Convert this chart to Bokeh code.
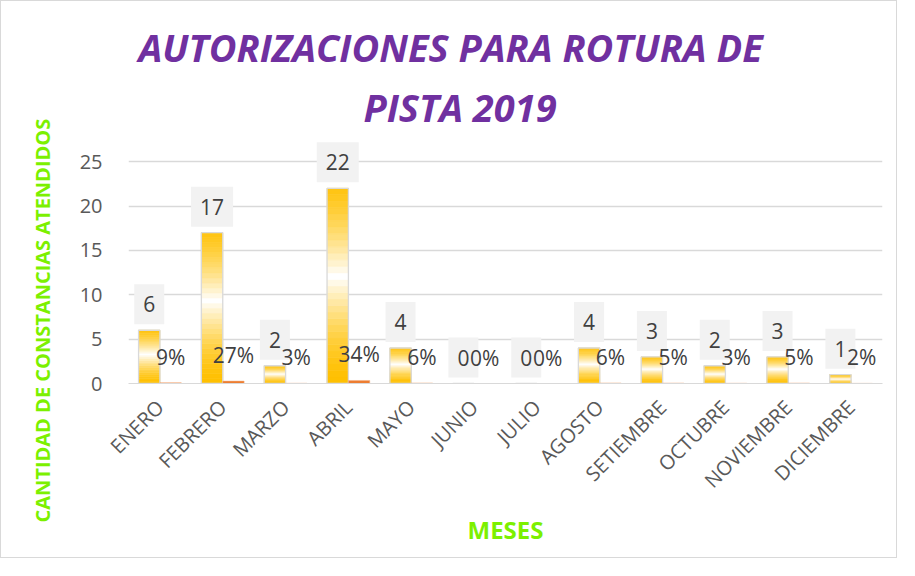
import numpy as np
from bokeh.plotting import figure
from bokeh.models import ColumnDataSource, FixedTicker, Title, FactorRange, Range1d
from bokeh.core.properties import value
from bokeh.embed import file_html
from bokeh.resources import INLINE

months = ["ENERO", "FEBRERO", "MARZO", "ABRIL", "MAYO", "JUNIO", "JULIO",
          "AGOSTO", "SETIEMBRE", "OCTUBRE", "NOVIEMBRE", "DICIEMBRE"]
counts = [6, 17, 2, 22, 4, 0, 0, 4, 3, 2, 3, 1]
percents = [9, 27, 3, 34, 6, 0, 0, 6, 5, 3, 5, 2]
y_ticks = [0, 5, 10, 15, 20, 25]

title1 = "AUTORIZACIONES  PARA ROTURA DE"
title2 = "PISTA 2019"
y_title = "CANTIDAD DE CONSTANCIAS ATENDIDOS"
x_title = "MESES"

FONT = "Open Sans"
GREEN = "#7CF000"
GOLD = np.array([255, 192, 0])
WHITE = np.array([255, 255, 255])

p = figure(width=897, height=558, output_backend="svg", toolbar_location=None,
           x_range=FactorRange(factors=months, range_padding=0),
           y_range=Range1d(0, 27.5),
           min_border_left=127, min_border_right=16, min_border_top=138,
           min_border_bottom=176)
p.styles = {"border": "1px solid #D9D9D9"}
p.outline_line_color = None
p.background_fill_color = "white"
p.border_fill_color = "white"

# gradient gold bars (vertical slices computed from each value)
N = 30
L, R, B, T, C = [], [], [], [], []
for i, v in enumerate(counts):
    if v <= 0:
        continue
    for k in range(N):
        t = (k + 0.5) / N
        w = max(0.0, 1 - abs(t - 0.55) / 0.55) ** 1.6
        col = GOLD * (1 - w) + WHITE * w
        L.append(i + 0.16)
        R.append(i + 0.5)
        B.append(v * k / N)
        T.append(v * (k + 1) / N)
        C.append("#%02x%02x%02x" % tuple(int(round(c)) for c in col))
p.quad(left=L, right=R, bottom=B, top=T, fill_color=C, line_color=C, line_width=0.6)

idx = np.arange(len(months))
cnt = np.array(counts, dtype=float)
pct = np.array(percents, dtype=float) / 100.0

bars = ColumnDataSource(dict(left=idx + 0.16, right=idx + 0.5, top=cnt))
p.quad(left="left", right="right", bottom=0, top="top", source=bars,
       fill_alpha=0, line_color="#D9D9D9", line_width=1.3)

obars = ColumnDataSource(dict(left=idx + 0.5, right=idx + 0.84, top=pct))
p.quad(left="left", right="right", bottom=0, top="top", source=obars,
       fill_color="#ED7D31", line_color="#F4B183", line_width=0.5)

off = 26 / 8.873
vlab = ColumnDataSource(dict(x=idx + 0.33, y=cnt + off, text=[str(c) for c in counts]))
p.text(x="x", y="y", text="text", source=vlab, text_font=value(FONT),
       text_font_size=value("21px"), text_color="#404040",
       text_align="center", text_baseline="middle",
       background_fill_color="#F2F2F2", padding=(9, 12))

plab = ColumnDataSource(dict(x=idx + 0.67, y=pct + off, text=["%d%%" % q for q in percents]))
p.text(x="x", y="y", text="text", source=plab, text_font=value(FONT),
       text_font_size=value("21px"), text_color="#404040",
       text_align="center", text_baseline="middle")

# axes
p.yaxis.ticker = FixedTicker(ticks=y_ticks)
p.yaxis.axis_line_color = None
p.yaxis.major_tick_line_color = None
p.yaxis.minor_tick_line_color = None
p.yaxis.major_label_standoff = 20
p.yaxis.major_label_text_font = FONT
p.yaxis.major_label_text_font_size = "20px"
p.yaxis.major_label_text_color = "#595959"

p.xaxis.axis_line_color = "#D9D9D9"
p.xaxis.major_tick_line_color = None
p.xaxis.minor_tick_line_color = None
p.xaxis.major_label_orientation = np.pi / 4
p.xaxis.major_label_standoff = 14
p.xaxis.major_label_text_font = FONT
p.xaxis.major_label_text_font_size = "20px"
p.xaxis.major_label_text_color = "#595959"
p.xaxis.axis_label = x_title
p.xaxis.axis_label_text_font = FONT
p.xaxis.axis_label_text_font_size = "24px"
p.xaxis.axis_label_text_font_style = "bold"
p.xaxis.axis_label_text_color = GREEN
p.xaxis.axis_label_standoff = 7

p.xgrid.grid_line_color = None
p.ygrid.grid_line_color = "#D9D9D9"
p.ygrid.grid_line_width = 1.3
p.ygrid.ticker = FixedTicker(ticks=y_ticks)

# titles
p.add_layout(Title(text=title2, align="left", offset=235, text_font=FONT,
                   text_font_size="38px", text_font_style="bold italic",
                   text_color="#7030A0", standoff=13), "above")
p.add_layout(Title(text=title1, align="left", offset=10, text_font=FONT,
                   text_font_size="38px", text_font_style="bold italic",
                   text_color="#7030A0", standoff=0), "above")
p.add_layout(Title(text=y_title, align="left", offset=-139, text_font=FONT,
                   text_font_size="20px", text_font_style="bold",
                   text_color=GREEN, standoff=42), "left")

open("out.html", "w").write(file_html(p, INLINE))
